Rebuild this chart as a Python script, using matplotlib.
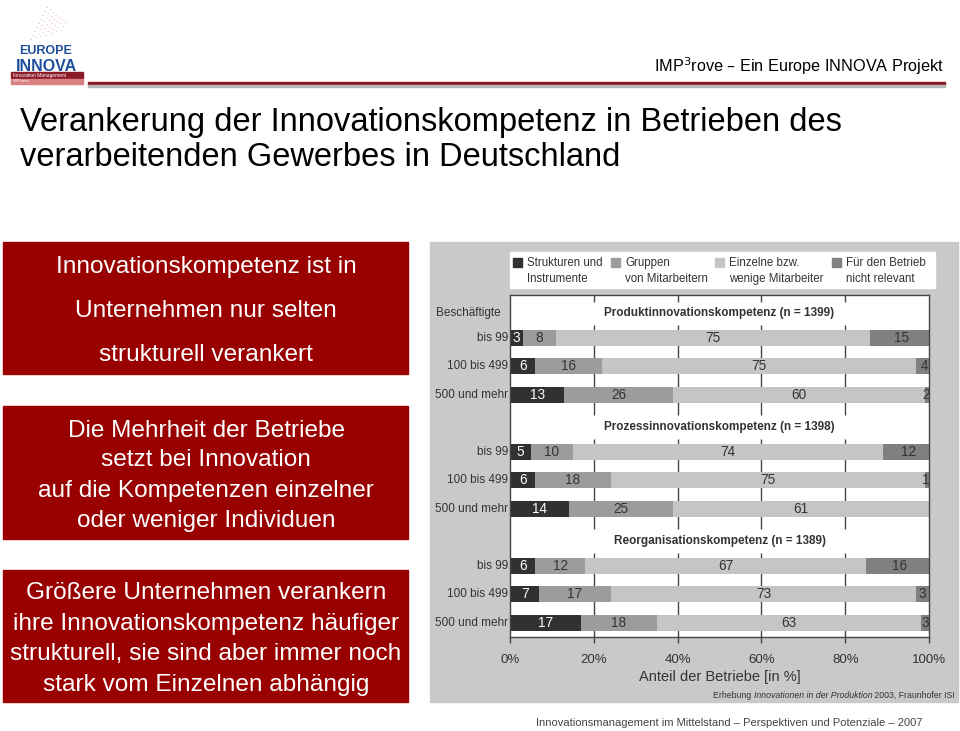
import numpy as np
import matplotlib
matplotlib.use("Agg")
import matplotlib.pyplot as plt
from matplotlib.patches import Rectangle

plt.rcParams['font.family'] = ['Liberation Sans', 'DejaVu Sans']

W, H = 960, 731

# data
groups = ["Produktinnovationskompetenz (n = 1399)",
          "Prozessinnovationskompetenz (n = 1398)",
          "Reorganisationskompetenz (n = 1389)"]
rows = ["bis 99", "100 bis 499", "500 und mehr"]
series = ["Strukturen und\nInstrumente", "Gruppen\nvon Mitarbeitern",
          "Einzelne bzw.\nwenige Mitarbeiter", "Für den Betrieb\nnicht relevant"]
strukturen = [3, 6, 13, 5, 6, 14, 6, 7, 17]
gruppen = [8, 16, 26, 10, 18, 25, 12, 17, 18]
einzelne = [75, 75, 60, 74, 75, 61, 67, 73, 63]
nicht_relevant = [15, 4, 2, 12, 1, 0, 16, 3, 3]
xticks = [0, 20, 40, 60, 80, 100]

colors = ["#2f3133", "#9b9c9e", "#c4c5c7", "#7f8082"]
label_colors = ["white", "#333333", "#333333", "#333333"]
red = "#990000"


def px(x, y):
    return x / W, 1 - y / H


def rect(x0, y_bottom, w, h, color, z=0):
    fig.add_artist(Rectangle(px(x0, y_bottom), w / W, h / H, color=color,
                             transform=fig.transFigure, zorder=z))


fig = plt.figure(figsize=(W / 100, H / 100), dpi=100)

# header
fig.text(*px(944, 66), "IMP$^3$rove – Ein Europe INNOVA Projekt", ha="right", va="center",
         fontsize=11.7)
rect(88, 85, 857, 3, "#8b1a28")
rect(88, 87, 857, 2, "#b8b8b8")

# logo
fig.text(*px(46, 54), "EUROPE", ha="center", va="baseline", fontsize=9, fontweight="bold",
         color="#1f4e9c")
fig.text(*px(46, 71), "INNOVA", ha="center", va="baseline", fontsize=11.5, fontweight="bold",
         color="#1f4e9c")
rect(11, 78, 72, 6, "#8b1a28")
rect(11, 84, 72, 5, "#d98080")
fig.text(*px(13, 75), "Innovation Management", fontsize=3.5, color="white", va="center")
fig.text(*px(13, 81.5), "IMP³rove", fontsize=3, color="white", va="center")
for i in range(7):
    for j in range(9 - i):
        fig.text(*px(30 + i * 5 + j * 2, 40 - j * 4 - i * 1.5), ".", color="#c06070",
                 fontsize=6, ha="center", alpha=0.7)

# title
fig.text(*px(20, 122), "Verankerung der Innovationskompetenz in Betrieben des",
         fontsize=23.5, va="center")
fig.text(*px(20, 157), "verarbeitenden Gewerbes in Deutschland", fontsize=23.5, va="center")

# red boxes
boxes = [(242, 374, ["Innovationskompetenz ist in", "Unternehmen nur selten",
                     "strukturell verankert"], 44),
         (406, 539, ["Die Mehrheit der Betriebe", "setzt bei Innovation",
                     "auf die Kompetenzen einzelner", "oder weniger Individuen"], 30),
         (570, 702, ["Größere Unternehmen verankern", "ihre Innovationskompetenz häufiger",
                     "strukturell, sie sind aber immer noch",
                     "stark vom Einzelnen abhängig"], 30.5)]
for top, bot, lines, step in boxes:
    rect(3, bot, 405, bot - top, red)
    mid = (top + bot) / 2 + 3
    for k, line in enumerate(lines):
        y = mid + (k - (len(lines) - 1) / 2) * step
        fig.text(*px(206, y), line, color="white", fontsize=17.6, ha="center", va="center")

# chart panel
rect(430, 702, 528, 460, "#c9c9c9")
rect(510, 288, 425, 36, "white")
leg_x = [517, 615, 719, 836]
for i, s in enumerate(series):
    rect(leg_x[i] - 4, 267, 9, 9, colors[i], z=1)
    fig.text(*px(leg_x[i] + 10, 271), s, fontsize=8.3, color="#333333", va="center",
             linespacing=1.35)

ax = fig.add_axes([510 / W, 1 - 637 / H, 419 / W, 342 / H])
ax.set_zorder(2)
ax.set_xlim(0, 100)
ax.set_ylim(637, 295)

base, group_step, row_step = 338, 114, 28.5
vals = np.array([strukturen, gruppen, einzelne, nicht_relevant])
for g in range(3):
    y0 = base + g * group_step
    ax.text(50, y0 - 25, groups[g], ha="center", va="center", fontsize=8.5,
            fontweight="bold", color="#333333", zorder=3)
    # grid only runs through the bar block of each group
    ax.vlines(xticks[1:-1], y0 - 13, y0 + 2 * row_step + 20, color="#444444", lw=1, zorder=0)
    for r in range(3):
        y = y0 + r * row_step
        idx = g * 3 + r
        left = 0
        for s in range(4):
            v = vals[s, idx]
            if v > 0:
                ax.barh(y, v, left=left, height=16, color=colors[s], zorder=2)
                ax.text(min(left + v / 2, 99.2), y, str(v), ha="center", va="center",
                        fontsize=9.8, color=label_colors[s], zorder=3)
            left += v
        ax.text(-0.5, y, rows[r], ha="right", va="center", fontsize=8.5, color="#333333",
                clip_on=False)
ax.vlines(xticks[1:-1], 295, 302, color="#444444", lw=1, zorder=0)

ax.set_xticks(xticks)
ax.set_xticklabels([f"{t}%" for t in xticks], fontsize=9.5, color="#333333")
ax.tick_params(axis="x", length=4, width=1, color="#444444", pad=8)
ax.set_yticks([])
for sp in ax.spines.values():
    sp.set_color("#444444")
    sp.set_linewidth(1)
ax.set_xlabel("Anteil der Betriebe [in %]", fontsize=10.5, color="#333333", labelpad=3)

fig.text(*px(436, 313), "Beschäftigte", fontsize=8.5, color="#333333", va="center")

# source line, pieces chained from the right
fig.canvas.draw()
renderer = fig.canvas.get_renderer()
pieces = [("Erhebung ", "normal"), ("Innovationen in der Produktion", "italic"),
          (" 2003, Fraunhofer ISI", "normal")]
x_right = 955
for txt, st in reversed(pieces):
    t = fig.text(*px(x_right, 695), txt, fontsize=6.3, style=st, color="#333333",
                 va="center", ha="right")
    x_right -= t.get_window_extent(renderer).width

# footer
fig.text(*px(922, 723), "Innovationsmanagement im Mittelstand – Perspektiven und Potenziale – 2007",
         ha="right", va="center", fontsize=8, color="#444444")

fig.savefig("out.png", dpi=100)
